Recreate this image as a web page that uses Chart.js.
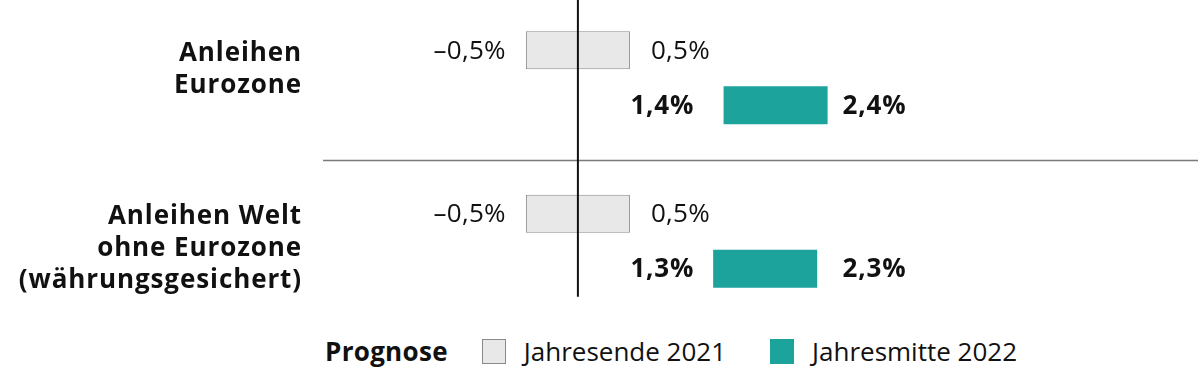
<!DOCTYPE html>
<html>
<head>
<meta charset="utf-8">
<script src="https://cdn.jsdelivr.net/npm/chart.js@4/dist/chart.umd.min.js"></script>
<style>
  html, body { margin: 0; padding: 0; background: #fff; }
  body { width: 1200px; height: 368px; position: relative; overflow: hidden; font-family: "Open Sans", sans-serif; color: #111; }
  #wrap { position: absolute; left: 0; top: -4px; width: 1200px; height: 327px; }
  #legend { position: absolute; left: 325px; top: 336px; height: 30px; display: flex; align-items: center; font-size: 26px; white-space: nowrap; }
  #legend .title { font-weight: bold; margin-right: 34px; letter-spacing: 0.3px; }
  #legend .box { width: 24px; height: 25px; box-sizing: border-box; margin-right: 18px; }
  #legend .txt { margin-right: 44px; }
</style>
</head>
<body>
<div id="wrap"><canvas id="rangeChart" width="1200" height="327"></canvas></div>
<div id="legend"></div>

<script>
const categories = [
  ['Anleihen', 'Eurozone'],
  ['Anleihen Welt', 'ohne Eurozone', '(währungsgesichert)']
];
const seriesNames = ['Jahresende 2021', 'Jahresmitte 2022'];
const end2021Low = [-0.5, -0.5];
const end2021High = [0.5, 0.5];
const mid2022Low = [1.4, 1.3];
const mid2022High = [2.4, 2.3];
const legendTitle = 'Prognose';

const grayFill = '#e8e8e8';
const grayLine = '#8a8a8a';
const teal = '#1ba39c';
const fontFam = '"Open Sans"';

function fmt(v) {
  const s = Math.abs(v).toFixed(1).replace('.', ',') + '%';
  return v < 0 ? '\u2013' + s : s;
}

// legend in html
const legend = document.getElementById('legend');
legend.innerHTML =
  '<span class="title">' + legendTitle + '</span>' +
  '<span class="box" style="background:' + grayFill + ';border:1px solid ' + grayLine + '"></span>' +
  '<span class="txt">' + seriesNames[0] + '</span>' +
  '<span class="box" style="background:' + teal + '"></span>' +
  '<span class="txt">' + seriesNames[1] + '</span>';

const extras = {
  id: 'extras',
  beforeDatasetsDraw(chart) {
    const c = chart.ctx, a = chart.chartArea;
    const m0 = chart.getDatasetMeta(0), m1 = chart.getDatasetMeta(1);
    // separator between the two groups
    const ySep = (m1.data[0].y + m1.data[0].height / 2 + m0.data[1].y - m0.data[1].height / 2) / 2 + 1;
    c.save();
    c.strokeStyle = '#7a7a7a';
    c.lineWidth = 1.5;
    c.beginPath();
    c.moveTo(a.left, ySep);
    c.lineTo(a.right, ySep);
    c.stroke();
    c.restore();
  },
  afterDatasetsDraw(chart) {
    const c = chart.ctx, a = chart.chartArea;
    const x = chart.scales.x;
    const m0 = chart.getDatasetMeta(0), m1 = chart.getDatasetMeta(1);
    const last = m1.data[m1.data.length - 1];

    // zero line
    c.save();
    c.strokeStyle = '#111';
    c.lineWidth = 2;
    c.beginPath();
    c.moveTo(x.getPixelForValue(0), a.top);
    c.lineTo(x.getPixelForValue(0), last.y + last.height / 2 + 9);
    c.stroke();

    // value labels, in columns per series
    c.fillStyle = '#111';
    c.textBaseline = 'middle';
    const series = [
      { meta: m0, lo: end2021Low, hi: end2021High, font: '26px', ls: '0.3px', gl: 20, gr: 21 },
      { meta: m1, lo: mid2022Low, hi: mid2022High, font: 'bold 26px', ls: '0.8px', gl: 19, gr: 15 }
    ];
    series.forEach(s => {
      c.font = s.font + ' ' + fontFam;
      c.letterSpacing = s.ls;
      const xl = x.getPixelForValue(Math.min(...s.lo)) - s.gl;
      const xr = x.getPixelForValue(Math.max(...s.hi)) + s.gr;
      s.meta.data.forEach((bar, i) => {
        c.textAlign = 'right';
        c.fillText(fmt(s.lo[i]), xl, bar.y + 1);
        c.textAlign = 'left';
        c.fillText(fmt(s.hi[i]), xr, bar.y + 1);
      });
    });

    // category labels
    c.font = 'bold 26px ' + fontFam;
    c.letterSpacing = '0.9px';
    c.textAlign = 'right';
    categories.forEach((lines, i) => {
      const y0 = m0.data[i].y + 3;
      lines.forEach((t, j) => c.fillText(t, a.left - 21, y0 + j * 32));
    });
    c.restore();
  }
};

new Chart(document.getElementById('rangeChart').getContext('2d'), {
  type: 'bar',
  data: {
    labels: categories,
    datasets: [{
      label: seriesNames[0],
      data: end2021Low.map((v, i) => [v, end2021High[i]]),
      backgroundColor: grayFill,
      borderColor: grayLine,
      borderWidth: 1,
      borderSkipped: false
    }, {
      label: seriesNames[1],
      data: mid2022Low.map((v, i) => [v, mid2022High[i]]),
      backgroundColor: teal,
      borderWidth: 0
    }]
  },
  options: {
    indexAxis: 'y',
    responsive: false,
    animation: false,
    layout: { padding: { left: 323, right: 2, top: 0, bottom: 0 } },
    datasets: { bar: { categoryPercentage: 0.673, barPercentage: 0.69 } },
    plugins: { legend: { display: false }, tooltip: { enabled: false } },
    scales: {
      x: { min: -2.45, max: 5.96, display: false },
      y: { display: false }
    }
  },
  plugins: [extras]
});
</script>
</body>
</html>
